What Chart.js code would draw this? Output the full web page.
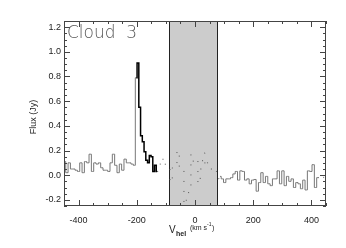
<!DOCTYPE html>
<html>
<head>
<meta charset="utf-8">
<script src="https://cdn.jsdelivr.net/npm/chart.js@4"></script>
<style>
  body { margin: 0; background: #fff; }
  canvas { display: block; }
</style>
</head>
<body>
<canvas id="spectrum" width="346" height="248"></canvas>
<script>
// heliocentric velocity channels (km/s) and flux (Jy)
var velocity = [
  -448, -440, -432, -424, -416, -408, -400, -392, -384, -376, -368, -360, -352, -344, -336, -328,
  -320, -312, -304, -296, -288, -280, -272, -264, -256, -248, -240, -232, -224, -216, -208,
  -202, -196, -190, -184, -178, -172, -166, -160, -154, -148, -142, -136, -130,
  -122, -114, -106, -98, -90, -82, -74, -66, -58, -50, -42, -34, -26, -18, -10, -2,
  6, 14, 22, 30, 38, 46, 54, 62, 70, 78,
  86, 94, 102, 110, 118, 126, 134, 142, 150, 158, 166, 174, 182, 190, 198, 206,
  214, 222, 230, 238, 246, 254, 262, 270, 278, 286, 294, 302, 310, 318, 326, 334,
  342, 350, 358, 366, 374, 382, 390, 398, 406, 414, 422, 430, 438, 446
];
var flux = [
  0.11, 0.02, 0.10, 0.05, 0.05, 0.04, 0.03, 0.10, 0.02, 0.11, 0.10, 0.17, 0.03, 0.10, 0.09, 0.10,
  0.06, 0.04, 0.04, 0.03, 0.10, 0.17, 0.08, 0.02, 0.09, 0.04, 0.13, 0.10, 0.10, 0.09, 0.08,
  0.79, 0.91, 0.55, 0.32, 0.27, 0.19, 0.12, 0.10, 0.16, 0.15, 0.03, 0.08, 0.03,
  0.09, 0.08, 0.14, 0.08, 0.08, -0.06, 0.06, 0.06, 0.20, 0.06, 0.05, -0.28, -0.15, -0.11, 0.17, 0.10,
  0.12, -0.07, 0.05, 0.18, 0.07, 0.10, 0.05, 0.02, 0.03, -0.03,
  -0.01, -0.03, -0.06, -0.03, -0.03, -0.02, 0.01, 0.03, -0.04, 0.035, 0.03, -0.04, -0.03, -0.07, -0.04, -0.035,
  -0.13, -0.06, 0.02, -0.06, -0.01, -0.07, -0.085, -0.03, -0.03, 0.035, -0.07, 0.035, -0.085, -0.01, -0.05, -0.03,
  -0.10, -0.06, -0.07, -0.11, -0.04, -0.12, 0.035, 0.03, 0.085, -0.10, -0.02, -0.03, -0.01, -0.02
];
var xTicks = [-400, -200, 0, 200, 400];
var yTicks = [-0.2, 0.0, 0.2, 0.4, 0.6, 0.8, 1.0, 1.2];
var excludedBand = [-90, 75];   // grey window
var lineBand = [-202, -130];     // emission drawn in black

var points = velocity.map(function (v, i) { return { x: v, y: flux[i] }; });

function isDotted(x) {
  return (x >= -130 && x < 86) || x >= 422;
}

// shaded velocity window behind the spectrum
var shadePlugin = {
  id: 'shade',
  beforeDatasetsDraw: function (chart) {
    var ctx = chart.ctx, a = chart.chartArea, xs = chart.scales.x;
    var x0 = Math.round(xs.getPixelForValue(excludedBand[0]));
    var x1 = Math.round(xs.getPixelForValue(excludedBand[1]));
    ctx.save();
    ctx.fillStyle = '#cccccc';
    ctx.fillRect(x0, a.top, x1 - x0, a.bottom - a.top);
    ctx.strokeStyle = '#222';
    ctx.lineWidth = 1;
    ctx.beginPath();
    ctx.moveTo(x0 + 0.5, a.top); ctx.lineTo(x0 + 0.5, a.bottom);
    ctx.moveTo(x1 + 0.5, a.top); ctx.lineTo(x1 + 0.5, a.bottom);
    ctx.stroke();
    ctx.restore();
  }
};

// box frame with inward ticks, plus axis titles and the label
var framePlugin = {
  id: 'frame',
  afterDraw: function (chart) {
    var ctx = chart.ctx, a = chart.chartArea, xs = chart.scales.x, ys = chart.scales.y;
    ctx.save();
    ctx.strokeStyle = '#444';
    ctx.lineWidth = 1;
    ctx.strokeRect(a.left + 0.5, a.top + 0.5, a.right - a.left - 1, a.bottom - a.top - 1);
    ctx.beginPath();
    for (var v = -450; v <= 450; v += 50) {
      var px = Math.round(xs.getPixelForValue(v)) + 0.5;
      var len = v % 200 === 0 ? 6 : 3;
      ctx.moveTo(px, a.bottom); ctx.lineTo(px, a.bottom - len);
      ctx.moveTo(px, a.top); ctx.lineTo(px, a.top + len);
    }
    for (var k = -5; k <= 25; k++) {
      var py = Math.round(ys.getPixelForValue(k * 0.05)) + 0.5;
      var l = k % 4 === 0 ? 6 : 3;
      ctx.moveTo(a.left, py); ctx.lineTo(a.left + l, py);
      ctx.moveTo(a.right, py); ctx.lineTo(a.right - l, py);
    }
    ctx.stroke();

    ctx.fillStyle = '#555';
    ctx.font = '200 17px "DejaVu Sans"';
    ctx.textBaseline = 'alphabetic';
    ctx.fillText('Cloud  3', 67, 38);

    ctx.fillStyle = '#222';
    ctx.save();
    ctx.translate(36, 117);
    ctx.rotate(-Math.PI / 2);
    ctx.textAlign = 'center';
    ctx.font = '9px "Liberation Sans"';
    ctx.fillText('Flux (Jy)', 0, 0);
    ctx.restore();

    ctx.textAlign = 'left';
    ctx.font = '10px "Liberation Sans"';
    ctx.fillText('V', 169, 233);
    ctx.font = 'bold 7px "Liberation Sans"';
    ctx.fillText('hel', 176, 236);
    ctx.font = '7px "Liberation Sans"';
    ctx.fillText('(km s', 190, 230);
    ctx.font = '5px "Liberation Sans"';
    ctx.fillText('-1', 207, 226);
    ctx.font = '7px "Liberation Sans"';
    ctx.fillText(')', 212, 230);
    ctx.restore();
  }
};

new Chart(document.getElementById('spectrum'), {
  type: 'line',
  data: {
    datasets: [{
      data: points,
      stepped: 'middle',
      pointRadius: 0,
      borderWidth: 1,
      borderColor: '#777',
      segment: {
        borderColor: function (c) {
          var x = c.p0.parsed.x;
          if (x >= lineBand[0] && x < lineBand[1]) return '#000';
          return isDotted(x) ? '#555' : '#777';
        },
        borderWidth: function (c) {
          var x = c.p0.parsed.x;
          return (x >= lineBand[0] && x < lineBand[1]) ? 1.5 : 1;
        },
        borderDash: function (c) {
          return isDotted(c.p0.parsed.x) ? [1, 9] : undefined;
        }
      }
    }]
  },
  options: {
    responsive: false,
    animation: false,
    layout: { padding: { top: 21, right: 20, left: 0, bottom: 0 } },
    plugins: { legend: { display: false }, tooltip: { enabled: false } },
    scales: {
      x: {
        type: 'linear',
        min: -450,
        max: 450,
        grid: { display: false, drawTicks: false },
        border: { display: false },
        afterBuildTicks: function (s) { s.ticks = xTicks.map(function (v) { return { value: v }; }); },
        afterFit: function (s) { s.height = 42; },
        ticks: {
          padding: 9,
          color: '#222',
          maxRotation: 0,
          font: { family: 'Liberation Sans', size: 9 },
          callback: function (v) { return String(v); }
        }
      },
      y: {
        min: -0.25,
        max: 1.25,
        grid: { display: false, drawTicks: false },
        border: { display: false },
        afterBuildTicks: function (s) { s.ticks = yTicks.map(function (v) { return { value: v }; }); },
        afterFit: function (s) { s.width = 64; },
        ticks: {
          padding: 3,
          color: '#222',
          font: { family: 'Liberation Sans', size: 9 },
          callback: function (v) { return v.toFixed(1); }
        }
      }
    }
  },
  plugins: [shadePlugin, framePlugin]
});
</script>
</body>
</html>
